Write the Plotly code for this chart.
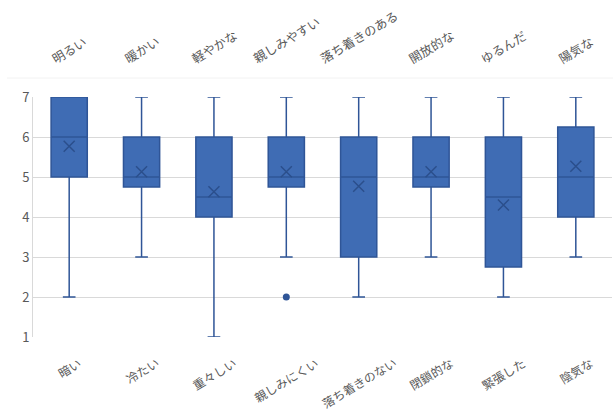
import plotly.graph_objects as go

# Semantic differential pairs: positive pole (top) / negative pole (bottom)
positive_labels = ["明るい", "暖かい", "軽やかな", "親しみやすい", "落ち着きのある", "開放的な", "ゆるんだ", "陽気な"]
negative_labels = ["暗い", "冷たい", "重々しい", "親しみにくい", "落ち着きのない", "閉鎖的な", "緊張した", "陰気な"]

# Box statistics per pair (7-point scale)
q1 = [5, 4.75, 4, 4.75, 3, 4.75, 2.75, 4]
median = [6, 5, 4.5, 5, 5, 5, 4.5, 5]
q3 = [7, 6, 6, 6, 6, 6, 6, 6.25]
lower = [2, 3, 1, 3, 2, 3, 2, 3]
upper = [7, 7, 7, 7, 7, 7, 7, 7]
mean = [5.77, 5.13, 4.63, 5.13, 4.77, 5.13, 4.3, 5.27]

# Outlier points (category index, value)
outlier_idx = [3]
outlier_val = [2]

x = list(range(len(positive_labels)))

fill_color = "#3F6CB4"
line_color = "#2F5597"
text_color = "#595959"
font_family = "Noto Sans CJK JP, Noto Sans, sans-serif"

fig = go.Figure()
fig.add_trace(go.Box(
    x=x, q1=q1, median=median, q3=q3,
    lowerfence=lower, upperfence=upper,
    fillcolor=fill_color,
    line=dict(color=line_color, width=1.5),
    whiskerwidth=0.35,
    width=0.5,
    boxpoints=False,
    showlegend=False,
    hoverinfo="skip",
))
fig.add_trace(go.Scatter(
    x=x, y=mean, mode="markers",
    marker=dict(symbol="x-thin", size=11, line=dict(color="#2B4F8C", width=1.5)),
    showlegend=False, hoverinfo="skip",
))
fig.add_trace(go.Scatter(
    x=[x[i] for i in outlier_idx], y=outlier_val, mode="markers",
    marker=dict(symbol="circle", size=7, color=line_color),
    showlegend=False, hoverinfo="skip",
))

# Rotated category labels, centred on each category: positive above, negative below
annotations = []
for xi, pos, neg in zip(x, positive_labels, negative_labels):
    annotations.append(dict(
        x=xi, y=1, xref="x", yref="paper", text=pos, showarrow=False,
        textangle=-31, xanchor="center", yanchor="bottom", yshift=27,
        font=dict(size=12.5, color=text_color, family=font_family),
    ))
    annotations.append(dict(
        x=xi, y=0, xref="x", yref="paper", text=neg, showarrow=False,
        textangle=-31, xanchor="center", yanchor="top", yshift=-14,
        font=dict(size=12, color=text_color, family=font_family),
    ))

fig.update_layout(
    width=613, height=416,
    margin=dict(l=33, r=1, t=97, b=79),
    paper_bgcolor="white", plot_bgcolor="white",
    font=dict(family=font_family, size=12, color=text_color),
    annotations=annotations,
    shapes=[dict(
        type="line", xref="paper", yref="paper", x0=-0.045, x1=1.01,
        y0=1.079, y1=1.079, line=dict(color="#F2F2F2", width=1),
    )],
    xaxis=dict(
        range=[-0.5, 7.5], tickmode="array", tickvals=x, showticklabels=False,
        showgrid=False, zeroline=False, showline=False, ticks="",
    ),
    yaxis=dict(
        range=[1, 7], dtick=1, showgrid=True, gridcolor="#D9D9D9", gridwidth=1,
        zeroline=False, showline=True, linecolor="#D9D9D9",
        tickfont=dict(size=13, color=text_color), ticks="",
    ),
)

fig.write_html("out.html")
